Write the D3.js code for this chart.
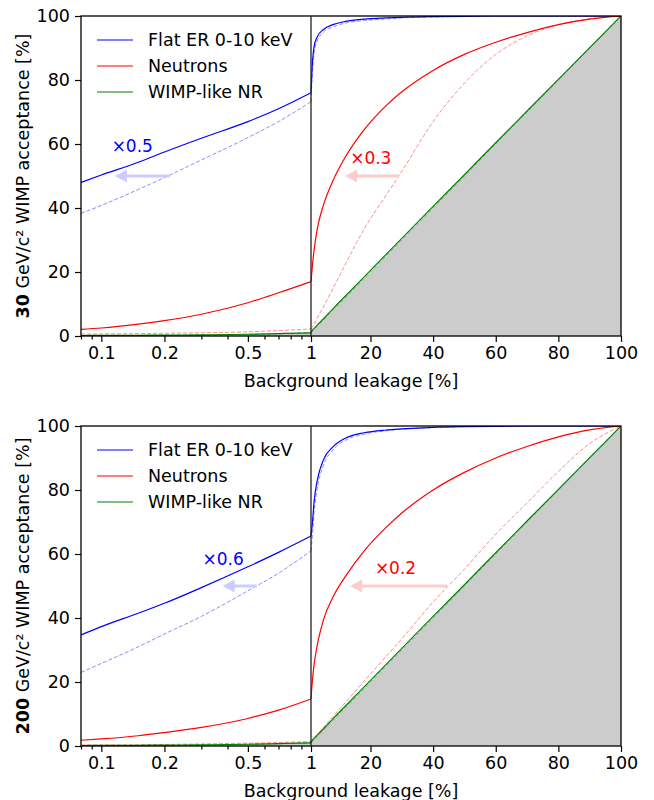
<!DOCTYPE html>
<html>
<head>
<meta charset="utf-8">
<script src="https://cdn.jsdelivr.net/npm/d3@7"></script>
<style>
  body { margin: 0; background: #fff; }
  svg text { font-family: "DejaVu Sans", sans-serif; }
</style>
</head>
<body>
<div id="chart"></div>
<script>
// background leakage points, log part (<1 %) and linear part (>=1 %)
var xLo = [0.08, 0.1, 0.15, 0.2, 0.3, 0.5, 0.7, 1]
var xHi = [1, 1.5, 2, 3, 5, 8, 12, 18, 25, 30, 40, 50, 60, 70, 80, 90, 100]

var loTicks = [0.1, 0.2, 0.5, 1]
var loMinor = [0.08, 0.09, 0.3, 0.4, 0.6, 0.7, 0.8, 0.9]
var hiTicks = [20, 40, 60, 80, 100]
var yTicks = [0, 20, 40, 60, 80, 100]

var legendNames = ["Flat ER 0-10 keV", "Neutrons", "WIMP-like NR"]
var masses = ["30", "200"]

// 30 GeV WIMP
var er30Lo = [48, 50.3, 54.3, 57.5, 61.8, 67, 71, 76]
var er30DashLo = [38.3, 40.8, 45.8, 49.5, 55, 62, 67, 73.2]
var er30Hi = [76, 86, 90.5, 93.5, 95.8, 97.3, 98.3, 99, 99.4, 99.6, 99.8, 99.9, 100, 100, 100, 100, 100]
var er30DashHi = [73.2, 83, 88.5, 92.3, 95, 96.6, 97.8, 98.6, 99.1, 99.4, 99.7, 99.85, 99.95, 100, 100, 100, 100]
var n30Lo = [2.1, 2.5, 3.7, 4.8, 6.8, 10.4, 13.5, 17]
var n30DashLo = [0.6, 0.65, 0.75, 0.85, 1.0, 1.3, 1.7, 2.2]
var n30Hi = [17, 22.5, 27, 33.5, 41, 48.5, 56, 64.5, 72, 76.3, 83, 88, 91.8, 94.8, 97.3, 99, 100]
var n30DashHi = [2.2, 3, 3.8, 5.6, 9.2, 14.8, 22.5, 33.5, 44, 51.5, 67, 79, 88, 93.8, 97.3, 99.2, 100]

// 200 GeV WIMP
var er200Lo = [34.7, 37.3, 41.5, 44.6, 49.5, 56, 60.5, 65.6]
var er200DashLo = [23, 25.8, 31, 35, 40.5, 48.5, 54, 61]
var er200Hi = [65.6, 70.3, 76.5, 83, 89.5, 93.5, 96.2, 97.9, 98.75, 99.1, 99.6, 99.8, 99.9, 100, 100, 100, 100]
var er200DashHi = [61, 66.5, 73, 80.5, 87.8, 92.5, 95.5, 97.5, 98.5, 99, 99.5, 99.8, 99.9, 100, 100, 100, 100]
var n200Lo = [1.8, 2.2, 3.2, 4.2, 5.8, 8.6, 11.2, 14.7]
var n200DashLo = [0.3, 0.33, 0.4, 0.5, 0.65, 0.9, 1.1, 1.4]
var n200Hi = [14.7, 21, 25.5, 31.5, 39.5, 46.5, 53, 61, 68.3, 72.8, 80, 85.5, 90, 93.6, 96.6, 98.8, 100]
var n200DashHi = [1.4, 1.9, 2.5, 3.6, 5.8, 9.2, 13.6, 20.3, 28, 33.5, 45, 55.3, 66.2, 76, 85.8, 94.5, 100]

// WIMP-like NR (same for both masses)
var wimpLo = [0.15, 0.18, 0.22, 0.28, 0.36, 0.55, 0.75, 1.0]
var wimpDashLo = [0.08, 0.1, 0.15, 0.2, 0.3, 0.5, 0.7, 1.0]
var wimpHi = [1, 1.9, 2.4, 3.4, 5.4, 8.5, 12.5, 18.5, 25.5, 30.5, 40.5, 50.4, 60.4, 70.3, 80.2, 90.1, 100]
var wimpDashHi = [1, 1.5, 2, 3, 5, 8, 12, 18, 25, 30, 40, 50, 60, 70, 80, 90, 100]

var width = 654
    height = 800
    left = 81
    mid = 311
    right = 621
    plotH = 320

var blue = "#0000ff", red = "#ff0000", green = "#008000"

var panels = [
  { top: 16, mass: masses[0],
    er: [er30Lo, er30Hi], erDash: [er30DashLo, er30DashHi],
    n: [n30Lo, n30Hi], nDash: [n30DashLo, n30DashHi],
    notes: [
      { side: "lo", text: "×0.5", color: blue, arrow: "#ccccff", tx: 0.112, ty: 57.5, from: 0.212, to: 0.116, ay: 50 },
      { side: "hi", text: "×0.3", color: red, arrow: "#ffcccc", tx: 13.5, ty: 53.6, from: 29.2, to: 11.9, ay: 50 }
    ] },
  { top: 426, mass: masses[1],
    er: [er200Lo, er200Hi], erDash: [er200DashLo, er200DashHi],
    n: [n200Lo, n200Hi], nDash: [n200DashLo, n200DashHi],
    notes: [
      { side: "lo", text: "×0.6", color: blue, arrow: "#ccccff", tx: 0.304, ty: 56.6, from: 0.55, to: 0.379, ay: 50 },
      { side: "hi", text: "×0.2", color: red, arrow: "#ffcccc", tx: 21.4, ty: 53.75, from: 44.4, to: 13.5, ay: 50 }
    ] }
]

var svg = d3.select("#chart")
  .append("svg")
    .attr("width", width)
    .attr("height", height)

var xLog = d3.scaleLog().domain([0.08, 1]).range([left, mid])
var xLin = d3.scaleLinear().domain([1, 100]).range([mid, right])

panels.forEach(function(p, i) {
  var y = d3.scaleLinear().domain([0, 100]).range([p.top + plotH, p.top])
  var g = svg.append("g")

  g.append("clipPath").attr("id", "clip" + i)
    .append("rect")
      .attr("x", left).attr("y", p.top)
      .attr("width", right - left).attr("height", plotH)

  var plot = g.append("g").attr("clip-path", "url(#clip" + i + ")")

  function lineFor(xs, sx) {
    return d3.line()
      .x(function(d, k) { return sx(xs[k]) })
      .y(function(d) { return y(d) })
      .curve(d3.curveMonotoneX)
  }
  var loLine = lineFor(xLo, xLog)
  var hiLine = lineFor(xHi, xLin)

  // grey band below the diagonal
  var diag = d3.area().y0(y(0)).y1(function(d) { return y(d) })
  plot.append("path").datum(xLo)
    .attr("d", diag.x(function(d) { return xLog(d) }))
    .attr("fill", "#cccccc")
  plot.append("path").datum(xHi)
    .attr("d", diag.x(function(d) { return xLin(d) }))
    .attr("fill", "#cccccc")

  function draw(pair, color, dashed) {
    [[pair[0], loLine], [pair[1], hiLine]].forEach(function(s) {
      plot.append("path").datum(s[0])
        .attr("d", s[1])
        .attr("fill", "none")
        .attr("stroke", color)
        .attr("stroke-width", dashed ? 1 : 1.2)
        .attr("stroke-opacity", dashed ? 0.45 : 1)
        .attr("stroke-dasharray", dashed ? "4,2" : null)
    })
  }
  draw(p.erDash, blue, true)
  draw(p.nDash, red, true)
  draw([wimpDashLo, wimpDashHi], green, true)
  draw(p.er, blue, false)
  draw(p.n, red, false)
  draw([wimpLo, wimpHi], green, false)

  // annotations
  p.notes.forEach(function(a) {
    var sx = a.side == "lo" ? xLog : xLin
    var x0 = sx(a.from), x1 = sx(a.to), ay = y(a.ay)
    var hl = 12, hw = 6.5, sw = 1.6
    var pts = [[x1, ay], [x1 + hl, ay - hw], [x1 + hl, ay - sw], [x0, ay - sw],
               [x0, ay + sw], [x1 + hl, ay + sw], [x1 + hl, ay + hw]]
    g.append("polygon")
      .attr("points", pts.map(function(q) { return q.join(",") }).join(" "))
      .attr("fill", a.arrow)
    g.append("text")
      .attr("x", sx(a.tx)).attr("y", y(a.ty))
      .attr("fill", a.color)
      .style("font-size", "17px")
      .text(a.text)
  })

  // axes
  var bottom = p.top + plotH
  var fs = "17.5px"
  var ax1 = g.append("g").attr("transform", "translate(0," + bottom + ")")
    .call(d3.axisBottom(xLog).tickValues(loTicks).tickSize(6).tickPadding(5)
      .tickFormat(function(d) { return d == 1 ? "1" : d3.format(".1f")(d) }))
  ax1.append("g").call(d3.axisBottom(xLog).tickValues(loMinor).tickSize(3.5).tickFormat(""))
  var ax2 = g.append("g").attr("transform", "translate(0," + bottom + ")")
    .call(d3.axisBottom(xLin).tickValues(hiTicks).tickSize(6).tickPadding(5))
  var ay = g.append("g").attr("transform", "translate(" + left + ",0)")
    .call(d3.axisLeft(y).tickValues(yTicks).tickSize(6).tickPadding(5))

  g.selectAll(".domain").remove()
  g.selectAll(".tick line").attr("stroke", "#000").attr("stroke-width", 1.2)
  g.selectAll(".tick text").style("font-size", fs).attr("fill", "#000")

  // frame and divider
  g.append("rect")
    .attr("x", left).attr("y", p.top)
    .attr("width", right - left).attr("height", plotH)
    .attr("fill", "none").attr("stroke", "#000").attr("stroke-width", 1.3)
  g.append("line")
    .attr("x1", mid).attr("x2", mid).attr("y1", p.top).attr("y2", bottom)
    .attr("stroke", "#222").attr("stroke-width", 1.3)

  // axis titles
  g.append("text")
    .attr("x", (left + right) / 2).attr("y", bottom + 51)
    .attr("text-anchor", "middle")
    .style("font-size", fs)
    .text("Background leakage [%]")

  var yl = g.append("text")
    .attr("transform", "translate(29," + (p.top + plotH / 2) + ") rotate(-90)")
    .attr("text-anchor", "middle")
    .style("font-size", fs)
  yl.append("tspan").style("font-weight", "bold").text(p.mass)
  yl.append("tspan").text(" GeV/c² WIMP acceptance [%]")

  // legend
  var colors = [blue, red, green]
  legendNames.forEach(function(name, k) {
    var ly = p.top + 24 + k * 26
    g.append("line")
      .attr("x1", 97).attr("x2", 133).attr("y1", ly).attr("y2", ly)
      .attr("stroke", colors[k]).attr("stroke-width", 1.2)
    g.append("text")
      .attr("x", 148).attr("y", ly).attr("dy", "0.36em")
      .style("font-size", "17.5px")
      .text(name)
  })
})
</script>
</body>
</html>
